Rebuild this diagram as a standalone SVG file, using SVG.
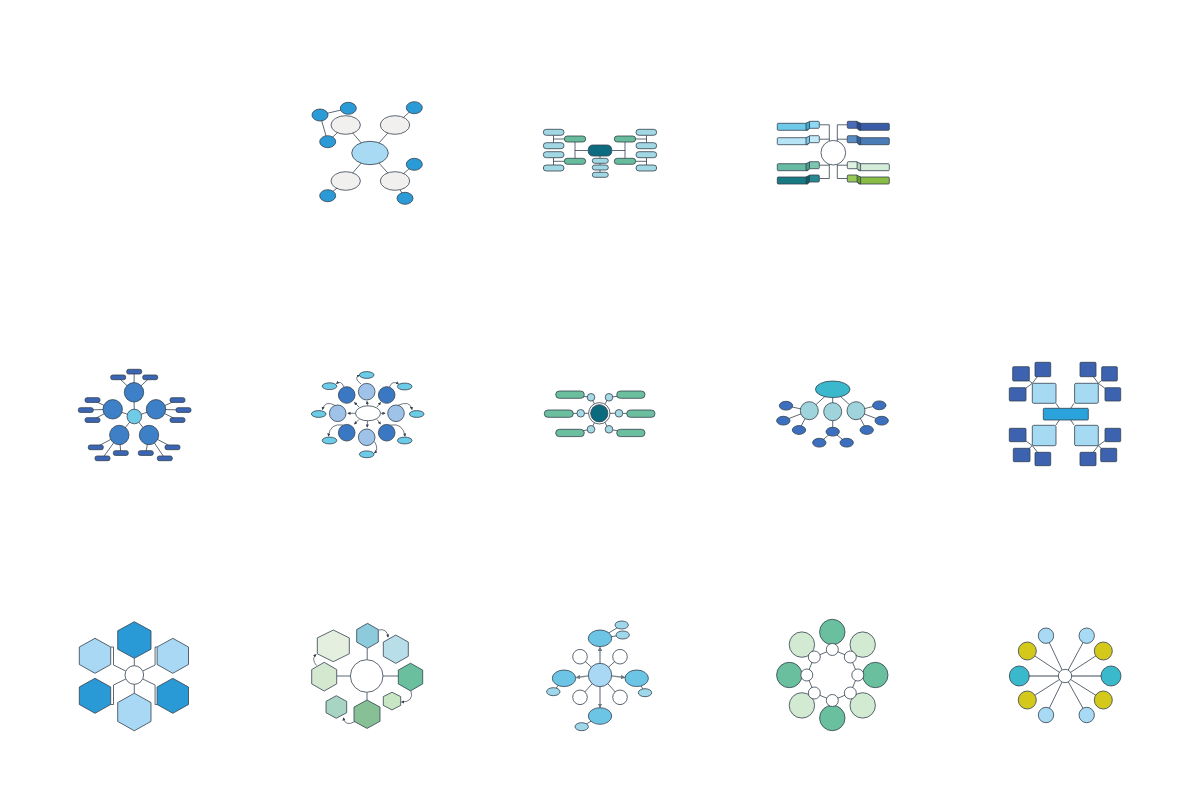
<svg xmlns="http://www.w3.org/2000/svg" width="1200" height="800" viewBox="0 0 1200 800">
<style>
.s{stroke:#34414f;stroke-width:0.8}
.ln{stroke:#34414f;stroke-width:0.8;fill:none}
.ar{stroke:#34414f;stroke-width:0.7;fill:none;marker-end:url(#ah)}
.ga{stroke:#7d8690;stroke-width:1.3;fill:none;marker-end:url(#gh)}
.gl{stroke:#7d8690;stroke-width:1.4;fill:none}
.w{fill:#ffffff}
</style>
<defs>
<marker id="ah" viewBox="0 0 10 10" refX="8" refY="5" markerWidth="3.2" markerHeight="3.2" orient="auto" markerUnits="userSpaceOnUse"><path d="M0,0 L10,5 L0,10 z" fill="#34414f"/></marker>
<marker id="gh" viewBox="0 0 10 10" refX="8" refY="5" markerWidth="4.5" markerHeight="4.5" orient="auto" markerUnits="userSpaceOnUse"><path d="M0,0 L10,5 L0,10 z" fill="#6d7680"/></marker>
</defs>
<rect width="1200" height="800" fill="#ffffff"/>

<!-- Diagram 1 -->
<g id="d1">
<g id="d1-connectors" class="ln">
<path d="M370,153 L345.7,125 M370,153 L395,125 M370,153 L345.7,181 M370,153 L395,181 M345.7,125 L327.7,141.7 L320,115 L348.3,108.3 M395,125 L414.3,107.7 M395,181 L414.3,164.3 M395,181 L405,198.3 M345.7,181 L327.7,195.7"/>
</g>
<g id="d1-nodes" class="s">
<ellipse id="d1-center" cx="370" cy="153" rx="18.3" ry="11.7" fill="#a8daf4"/>
<ellipse id="d1-g1" cx="345.7" cy="125" rx="14.7" ry="9.3" fill="#f1f0ee"/>
<ellipse id="d1-g2" cx="395" cy="125" rx="14.7" ry="9.3" fill="#f1f0ee"/>
<ellipse id="d1-g3" cx="345.7" cy="181" rx="14.7" ry="9.3" fill="#f1f0ee"/>
<ellipse id="d1-g4" cx="395" cy="181" rx="14.7" ry="9.3" fill="#f1f0ee"/>
<ellipse id="d1-b1" cx="320" cy="115" rx="8" ry="6" fill="#2b9bd7"/>
<ellipse id="d1-b2" cx="348.3" cy="108.3" rx="8" ry="6" fill="#2b9bd7"/>
<ellipse id="d1-b3" cx="327.7" cy="141.7" rx="8" ry="6" fill="#2b9bd7"/>
<ellipse id="d1-b4" cx="414.3" cy="107.7" rx="8" ry="6" fill="#2b9bd7"/>
<ellipse id="d1-b5" cx="414.3" cy="164.3" rx="8" ry="6" fill="#2b9bd7"/>
<ellipse id="d1-b6" cx="327.7" cy="195.7" rx="8" ry="6" fill="#2b9bd7"/>
<ellipse id="d1-b7" cx="405" cy="198.3" rx="8" ry="6" fill="#2b9bd7"/>
</g>
</g>

<!-- Diagram 2 -->
<g id="d2">
<g id="d2-connectors" class="ln">
<path d="M588.3,150.5 H575 M575,142 V158.3 M611.7,150.5 H625 M625,142 V158.3 M564.3,139 H553.5 M553.5,135.3 V142.7 M564.3,161.3 H553.5 M553.5,157.3 V165 M635.7,139 H646.5 M646.5,135.3 V142.7 M635.7,161.3 H646.5 M646.5,157.3 V165 M600,156 V173"/>
</g>
<g id="d2-nodes" class="s">
<rect id="d2-center" x="588.3" y="145" width="23.4" height="11" rx="4.5" fill="#0d6b7f"/>
<rect id="d2-gl1" x="564.3" y="136" width="21.4" height="6" rx="3" fill="#67bc9c"/>
<rect id="d2-gl2" x="564.3" y="158.3" width="21.4" height="6" rx="3" fill="#67bc9c"/>
<rect id="d2-gr1" x="614.3" y="136" width="21.4" height="6" rx="3" fill="#67bc9c"/>
<rect id="d2-gr2" x="614.3" y="158.3" width="21.4" height="6" rx="3" fill="#67bc9c"/>
<rect id="d2-l1" x="543.3" y="129.3" width="20.7" height="6" rx="3" fill="#a2d8e3"/>
<rect id="d2-l2" x="543.3" y="142.7" width="20.7" height="6" rx="3" fill="#a2d8e3"/>
<rect id="d2-l3" x="543.3" y="151.7" width="20.7" height="6" rx="3" fill="#a2d8e3"/>
<rect id="d2-l4" x="543.3" y="165" width="20.7" height="6" rx="3" fill="#a2d8e3"/>
<rect id="d2-r1" x="636" y="129.3" width="20.7" height="6" rx="3" fill="#a2d8e3"/>
<rect id="d2-r2" x="636" y="142.7" width="20.7" height="6" rx="3" fill="#a2d8e3"/>
<rect id="d2-r3" x="636" y="151.7" width="20.7" height="6" rx="3" fill="#a2d8e3"/>
<rect id="d2-r4" x="636" y="165" width="20.7" height="6" rx="3" fill="#a2d8e3"/>
<rect id="d2-b1" x="592.3" y="158.3" width="16" height="5" rx="2.5" fill="#a2d8e3"/>
<rect id="d2-b2" x="592.3" y="165" width="16" height="5" rx="2.5" fill="#a2d8e3"/>
<rect id="d2-b3" x="592.3" y="172.3" width="16" height="5" rx="2.5" fill="#a2d8e3"/>
</g>
</g>

<!-- Diagram 3 -->
<g id="d3">
<g id="d3-connectors" class="ln">
<path d="M819.3,124.8 H829.3 V141.1 M819.3,139.2 H829.3 M819.3,165.2 H829.3 V164 M829.3,164.3 V178.5 H819.3 M847.3,124.8 H837.3 V141.1 M847.3,139.2 H837.3 M837.3,164.3 V178.5 H847.3 M847.3,165.2 H837.3"/>
</g>
<g id="d3-nodes" class="s">
<circle id="d3-center" cx="833.3" cy="152.7" r="12.3" fill="#ffffff"/>
<g id="d3-l1"><rect x="777.3" y="123.3" width="31" height="7" rx="1" fill="#6fcaea"/><polygon points="806,123.3 810,121.3 810,128.3 806,130.3" fill="#3fa8d0"/><rect x="809.5" y="121.3" width="9.8" height="7" rx="1" fill="#8fd8f2"/></g>
<g id="d3-l2"><rect x="777.3" y="137.7" width="31" height="7" rx="1" fill="#b6e3f5"/><polygon points="806,137.7 810,135.7 810,142.7 806,144.7" fill="#7cc6e6"/><rect x="809.5" y="135.7" width="9.8" height="7" rx="1" fill="#c4e9f7"/></g>
<g id="d3-l3"><rect x="777.3" y="163.7" width="31" height="7" rx="1" fill="#66bba2"/><polygon points="806,163.7 810,161.7 810,168.7 806,170.7" fill="#4a9c88"/><rect x="809.5" y="161.7" width="9.8" height="7" rx="1" fill="#7cc6b0"/></g>
<g id="d3-l4"><rect x="777.3" y="177" width="31" height="7" rx="1" fill="#187a82"/><polygon points="806,177 810,175 810,182 806,184" fill="#0c5e66"/><rect x="809.5" y="175" width="9.8" height="7" rx="1" fill="#268890"/></g>
<g id="d3-r1"><rect x="858.3" y="123.3" width="31" height="7" rx="1" fill="#3a5ca8"/><polygon points="860.6,123.3 856.6,121.3 856.6,128.3 860.6,130.3" fill="#2a4690"/><rect x="847.3" y="121.3" width="9.8" height="7" rx="1" fill="#4a6cb6"/></g>
<g id="d3-r2"><rect x="858.3" y="137.7" width="31" height="7" rx="1" fill="#4a7cb8"/><polygon points="860.6,137.7 856.6,135.7 856.6,142.7 860.6,144.7" fill="#3462a0"/><rect x="847.3" y="135.7" width="9.8" height="7" rx="1" fill="#5a8cc4"/></g>
<g id="d3-r3"><rect x="858.3" y="163.7" width="31" height="7" rx="1" fill="#d4ecd8"/><polygon points="860.6,163.7 856.6,161.7 856.6,168.7 860.6,170.7" fill="#b0d4b8"/><rect x="847.3" y="161.7" width="9.8" height="7" rx="1" fill="#e0f2e2"/></g>
<g id="d3-r4"><rect x="858.3" y="177" width="31" height="7" rx="1" fill="#88bc44"/><polygon points="860.6,177 856.6,175 856.6,182 860.6,184" fill="#6a9c30"/><rect x="847.3" y="175" width="9.8" height="7" rx="1" fill="#98c858"/></g>
</g>
</g>

<!-- Diagram 4 -->
<g id="d4">
<g id="d4-connectors" class="ln">
<path d="M134.3,416.5 L134,392.3 M134.3,416.5 L112.7,409.3 M134.3,416.5 L156,409.3 M134.3,416.5 L119.3,435 M134.3,416.5 L149,435
M134,392.3 L134.2,371.6 M134,392.3 L118.2,377.3 M134,392.3 L150.2,377.3
M112.7,409.3 L92.5,400 M112.7,409.3 L85.8,410 M112.7,409.3 L92.5,420
M156,409.3 L177.5,400 M156,409.3 L183.5,410 M156,409.3 L177.5,420
M119.3,435 L95.8,447.3 M119.3,435 L102.5,458.3 M119.3,435 L120.8,453
M149,435 L145.8,453 M149,435 L164.8,458.3 M149,435 L172.5,447.3"/>
</g>
<g id="d4-nodes" class="s">
<circle id="d4-c1" cx="134" cy="392.3" r="9.7" fill="#3e80c8"/>
<circle id="d4-c2" cx="112.7" cy="409.3" r="9.7" fill="#3e80c8"/>
<circle id="d4-c3" cx="156" cy="409.3" r="9.7" fill="#3e80c8"/>
<circle id="d4-c4" cx="119.3" cy="435" r="9.7" fill="#3e80c8"/>
<circle id="d4-c5" cx="149" cy="435" r="9.7" fill="#3e80c8"/>
<circle id="d4-center" cx="134.3" cy="416.5" r="7.3" fill="#6fcbe6"/>
<g fill="#3b66b5">
<rect id="d4-r1" x="126.7" y="369.3" width="15" height="4.7" rx="2"/>
<rect id="d4-r2" x="110.7" y="375" width="15" height="4.7" rx="2"/>
<rect id="d4-r3" x="142.7" y="375" width="15" height="4.7" rx="2"/>
<rect id="d4-r4" x="85" y="397.7" width="15" height="4.7" rx="2"/>
<rect id="d4-r5" x="78.3" y="407.7" width="15" height="4.7" rx="2"/>
<rect id="d4-r6" x="85" y="417.7" width="15" height="4.7" rx="2"/>
<rect id="d4-r7" x="170" y="397.7" width="15" height="4.7" rx="2"/>
<rect id="d4-r8" x="176" y="407.7" width="15" height="4.7" rx="2"/>
<rect id="d4-r9" x="170" y="417.7" width="15" height="4.7" rx="2"/>
<rect id="d4-r10" x="88.3" y="445" width="15" height="4.7" rx="2"/>
<rect id="d4-r11" x="95" y="456" width="15" height="4.7" rx="2"/>
<rect id="d4-r12" x="113.3" y="450.7" width="15" height="4.7" rx="2"/>
<rect id="d4-r13" x="138.3" y="450.7" width="15" height="4.7" rx="2"/>
<rect id="d4-r14" x="157.3" y="456" width="15" height="4.7" rx="2"/>
<rect id="d4-r15" x="165" y="445" width="15" height="4.7" rx="2"/>
</g>
</g>
</g>

<!-- Diagram 5 -->
<g id="d5">
<g id="d5-connectors">
<path class="ar" d="M367.5,405.5 L367,401.5"/>
<path class="ar" d="M359,407 L354.5,402.5"/>
<path class="ar" d="M377,407 L380.5,402.5"/>
<path class="ar" d="M355.5,413.3 L348,413.3"/>
<path class="ar" d="M380.5,413.3 L385,413.3"/>
<path class="ar" d="M359,419.5 L354.5,424"/>
<path class="ar" d="M377,419.5 L380.5,424"/>
<path class="ar" d="M367.5,421 L367.2,427"/>
<path class="ar" d="M361,384 Q353,378 359.5,375"/>
<path class="ar" d="M344,387 Q341,380 336.5,383.5"/>
<path class="ar" d="M389.5,387 Q392,380 398.5,384"/>
<path class="ar" d="M335,405.3 Q325,400 322.5,409.5"/>
<path class="ar" d="M398,405.3 Q410,400 412,409.5"/>
<path class="ar" d="M343,425 Q330,423 328.5,436"/>
<path class="ar" d="M390.5,425 Q403,423 405,436"/>
<path class="ar" d="M374.5,441.5 Q379,449 374.5,453"/>
</g>
<g id="d5-nodes" class="s">
<ellipse id="d5-center" cx="368" cy="413.3" rx="12.5" ry="7.5" fill="#ffffff"/>
<circle id="d5-c1" cx="366.7" cy="391.7" r="8.3" fill="#9fc2e8"/>
<circle id="d5-c2" cx="346.7" cy="395" r="8.3" fill="#3a78c4"/>
<circle id="d5-c3" cx="386.7" cy="395" r="8.3" fill="#3a78c4"/>
<circle id="d5-c4" cx="337.7" cy="413.3" r="8.3" fill="#9fc2e8"/>
<circle id="d5-c5" cx="396" cy="413.3" r="8.3" fill="#9fc2e8"/>
<circle id="d5-c6" cx="346.7" cy="432.7" r="8.3" fill="#3a78c4"/>
<circle id="d5-c7" cx="366.7" cy="437.3" r="8.3" fill="#9fc2e8"/>
<circle id="d5-c8" cx="386.7" cy="432.7" r="8.3" fill="#3a78c4"/>
<g fill="#6ccce8">
<ellipse id="d5-e1" cx="366.7" cy="375" rx="7.3" ry="3.4"/>
<ellipse id="d5-e2" cx="329.5" cy="386.2" rx="7.3" ry="3.4"/>
<ellipse id="d5-e3" cx="404.7" cy="386.5" rx="7.3" ry="3.4"/>
<ellipse id="d5-e4" cx="318.7" cy="414" rx="7.3" ry="3.4"/>
<ellipse id="d5-e5" cx="416.7" cy="414" rx="7.3" ry="3.4"/>
<ellipse id="d5-e6" cx="329.5" cy="440.5" rx="7.3" ry="3.4"/>
<ellipse id="d5-e7" cx="404.7" cy="440.5" rx="7.3" ry="3.4"/>
<ellipse id="d5-e8" cx="366.7" cy="454.3" rx="7.3" ry="3.4"/>
</g>
</g>
</g>

<!-- Diagram 6 -->
<g id="d6">
<g id="d6-connectors" class="ln">
<path d="M599.3,413.3 L591,397.3 L570,394.7 M599.3,413.3 L609,397.3 L630.8,394.7 M599.3,413.3 L580.7,413.3 L558.8,413.7 M599.3,413.3 L619,413.3 L640.8,413.7 M599.3,413.3 L591,429.3 L570,433 M599.3,413.3 L609,429.3 L630.8,433"/>
</g>
<g id="d6-nodes" class="s">
<g fill="#6bbf9f">
<rect id="d6-p1" x="555.7" y="391" width="28.6" height="7.3" rx="3.65"/>
<rect id="d6-p2" x="616.7" y="391" width="28.3" height="7.3" rx="3.65"/>
<rect id="d6-p3" x="544.3" y="410" width="29" height="7.3" rx="3.65"/>
<rect id="d6-p4" x="626.7" y="410" width="28.3" height="7.3" rx="3.65"/>
<rect id="d6-p5" x="555.7" y="429.3" width="28.6" height="7.3" rx="3.65"/>
<rect id="d6-p6" x="616.7" y="429.3" width="28.3" height="7.3" rx="3.65"/>
</g>
<g fill="#a6d9e3">
<circle id="d6-s1" cx="591" cy="397.3" r="3.8"/>
<circle id="d6-s2" cx="609" cy="397.3" r="3.8"/>
<circle id="d6-s3" cx="580.7" cy="413.3" r="3.8"/>
<circle id="d6-s4" cx="619" cy="413.3" r="3.8"/>
<circle id="d6-s5" cx="591" cy="429.3" r="3.8"/>
<circle id="d6-s6" cx="609" cy="429.3" r="3.8"/>
</g>
<g id="d6-center"><circle cx="599.3" cy="413.3" r="10.7" fill="#ffffff"/><circle cx="599.3" cy="413.3" r="8.6" fill="#0b6b7e"/></g>
</g>
</g>

<!-- Diagram 7 -->
<g id="d7">
<g id="d7-connectors" class="ln">
<path d="M832.7,389.3 L809.3,410.7 M832.7,389.3 L832.7,411.7 M832.7,389.3 L856,410.7
M809.3,410.7 L786,405.7 M809.3,410.7 L783.3,420.7 M809.3,410.7 L799,430
M856,410.7 L879.3,405 M856,410.7 L881.7,420.7 M856,410.7 L866.7,430
M832.7,411.7 L832.7,431.7 L819.3,442.7 M832.7,431.7 L846.7,442.7"/>
</g>
<g id="d7-nodes" class="s">
<ellipse id="d7-top" cx="832.7" cy="389.3" rx="17.3" ry="8.3" fill="#3bb8cc"/>
<circle id="d7-c1" cx="809.3" cy="410.7" r="9" fill="#a0d4dc"/>
<circle id="d7-c2" cx="832.7" cy="411.7" r="9" fill="#a0d4dc"/>
<circle id="d7-c3" cx="856" cy="410.7" r="9" fill="#a0d4dc"/>
<g fill="#3c70bf">
<ellipse id="d7-e1" cx="786" cy="405.7" rx="6.7" ry="4.4"/>
<ellipse id="d7-e2" cx="783.3" cy="420.7" rx="6.7" ry="4.4"/>
<ellipse id="d7-e3" cx="799" cy="430" rx="6.7" ry="4.4"/>
<ellipse id="d7-e4" cx="879.3" cy="405.3" rx="6.7" ry="4.4"/>
<ellipse id="d7-e5" cx="881.7" cy="420.7" rx="6.7" ry="4.4"/>
<ellipse id="d7-e6" cx="866.7" cy="430" rx="6.7" ry="4.4"/>
<ellipse id="d7-e7" cx="832.7" cy="431.7" rx="6.7" ry="4.4"/>
<ellipse id="d7-e8" cx="819.3" cy="442.7" rx="6.7" ry="4.4"/>
<ellipse id="d7-e9" cx="846.7" cy="442.7" rx="6.7" ry="4.4"/>
</g>
</g>
</g>

<!-- Diagram 8 -->
<g id="d8">
<g id="d8-connectors" class="ln">
<path d="M1056,403.3 L1059.3,408.3 M1074,403.3 L1070.7,408.3 M1056,425 L1059.3,420 M1074,425 L1070.7,420
M1032.3,383.3 L1021,373.8 M1032.3,383.3 L1042.8,369.5 M1032.3,383.3 L1017.7,394.3
M1098.3,383.3 L1088,369.5 M1098.3,383.3 L1109.5,373.8 M1098.3,383.3 L1112.8,394.3
M1032.3,445.7 L1017.7,435 M1032.3,445.7 L1021.7,455 M1032.3,445.7 L1042.8,459
M1098.3,445.7 L1088,459 M1098.3,445.7 L1108.7,455 M1098.3,445.7 L1112.8,435"/>
</g>
<g id="d8-nodes" class="s">
<rect id="d8-center" x="1043.3" y="408.3" width="45" height="11.7" rx="1" fill="#2aa3dd"/>
<g fill="#a5daf2">
<rect id="d8-l1" x="1032.3" y="383.3" width="23.7" height="20" rx="1.5"/>
<rect id="d8-l2" x="1074.6" y="383.3" width="23.7" height="20" rx="1.5"/>
<rect id="d8-l3" x="1032.3" y="425.3" width="23.7" height="20.4" rx="1.5"/>
<rect id="d8-l4" x="1074.6" y="425.3" width="23.7" height="20.4" rx="1.5"/>
</g>
<g fill="#3d62b0">
<rect id="d8-d1" x="1012.7" y="366.7" width="16.6" height="14.3" rx="1"/>
<rect id="d8-d2" x="1035" y="362.3" width="15.7" height="14.4" rx="1"/>
<rect id="d8-d3" x="1009.3" y="387.7" width="16.7" height="13.3" rx="1"/>
<rect id="d8-d4" x="1080" y="362.3" width="16" height="14.4" rx="1"/>
<rect id="d8-d5" x="1101.7" y="366.7" width="15.6" height="14.3" rx="1"/>
<rect id="d8-d6" x="1105" y="387.7" width="15.7" height="13.3" rx="1"/>
<rect id="d8-d7" x="1009.3" y="428.3" width="16.7" height="13.4" rx="1"/>
<rect id="d8-d8" x="1013.3" y="448.3" width="16.7" height="13.4" rx="1"/>
<rect id="d8-d9" x="1035" y="452.3" width="15.7" height="13.4" rx="1"/>
<rect id="d8-d10" x="1080" y="452.3" width="16" height="13.4" rx="1"/>
<rect id="d8-d11" x="1100.7" y="448.3" width="16" height="13.4" rx="1"/>
<rect id="d8-d12" x="1105" y="428.3" width="15.7" height="13.4" rx="1"/>
</g>
</g>
</g>

<!-- Diagram 9 -->
<g id="d9">
<g id="d9-connectors" class="ln">
<path d="M134.3,665.7 V658.3 M134.3,684.3 V693.2 M125.8,671 L113.5,665 V647 H110.7 M142.8,671 L155.1,665 V647 H157.1 M125.8,679 L113.5,685 V704.5 H110.7 M142.8,679 L155.1,685 V704.5 H157.1"/>
</g>
<g id="d9-nodes" class="s">
<polygon id="d9-h1" points="134.3,621.7 151,630.8 151,649.2 134.3,658.3 117.7,649.2 117.7,630.8" fill="#2a9ad6"/>
<polygon id="d9-h2" points="95,638.3 110.7,647 110.7,664.5 95,673.3 79.3,664.5 79.3,647" fill="#a8d8f4"/>
<polygon id="d9-h3" points="172.8,638.3 188.5,647 188.5,664.5 172.8,673.3 157.1,664.5 157.1,647" fill="#a8d8f4"/>
<polygon id="d9-h4" points="95,678.3 110.7,687 110.7,704.5 95,713.3 79.3,704.5 79.3,687" fill="#2a9ad6"/>
<polygon id="d9-h5" points="172.8,678.3 188.5,687 188.5,704.5 172.8,713.3 157.1,704.5 157.1,687" fill="#2a9ad6"/>
<polygon id="d9-h6" points="134.3,693.2 151,702.6 151,721.4 134.3,730.8 117.7,721.4 117.7,702.6" fill="#a8d8f4"/>
<circle id="d9-center" cx="134.3" cy="675" r="9.3" fill="#ffffff"/>
</g>
</g>

<!-- Diagram 10 -->
<g id="d10">
<g id="d10-connectors">
<path class="ln" d="M367.2,659.7 V648.3 M383,676 H398.3 M367,692.3 V700 M350.4,676 H336.7"/>
<path class="ar" d="M378.5,630 Q387,628 388,637"/>
<path class="ar" d="M411,691 Q414,702 401.5,702"/>
<path class="ar" d="M355,721.5 Q345,727 343.5,718"/>
<path class="ar" d="M316.5,665.5 Q311,659 316,654.5"/>
</g>
<g id="d10-nodes" class="s">
<polygon id="d10-h1" points="367.5,623.3 378.3,629.6 378.3,642.1 367.5,648.3 356.7,642.1 356.7,629.6" fill="#8ccadc"/>
<polygon id="d10-h2" points="395.8,635 408.3,642.1 408.3,656.3 395.8,663.4 383.3,656.3 383.3,642.1" fill="#b8dfe9"/>
<polygon id="d10-h3" points="410.5,663.2 422.7,670.1 422.7,683.9 410.5,690.9 398.3,683.9 398.3,670.1" fill="#6abf9f"/>
<polygon id="d10-h4" points="392,692.2 400.7,696.6 400.7,705.4 392,709.9 383.3,705.4 383.3,696.6" fill="#c8e6c4"/>
<polygon id="d10-h5" points="367,700 380,707.1 380,721.3 367,728.4 354,721.3 354,707.1" fill="#88c095"/>
<polygon id="d10-h6" points="336.3,695.7 346.7,701.4 346.7,712.7 336.3,718.3 326,712.7 326,701.4" fill="#a8d4c4"/>
<polygon id="d10-h7" points="324.2,662.3 336.7,669.5 336.7,683.9 324.2,691 311.7,683.9 311.7,669.5" fill="#d4e8d0"/>
<polygon id="d10-h8" points="333.3,630 349.3,637.9 349.3,653.8 333.3,661.7 317.3,653.8 317.3,637.9" fill="#e4efe0"/>
<circle id="d10-center" cx="366.7" cy="676" r="16.3" fill="#ffffff"/>
</g>
</g>

<!-- Diagram 11 -->
<g id="d11">
<g id="d11-connectors">
<path class="ln" d="M600,675 L580,656.7 M600,675 L620,656.7 M600,675 L580,697.3 M600,675 L620,697.3 M600,638.3 L621.7,625 M600,638.3 L622.7,635 M564,678.3 L553.3,691.7 M636.7,678.3 L645,692.7 M600,716 L581.7,726.7"/>
<path class="ga" d="M600,663.5 V647.5"/>
<path class="ga" d="M588.5,675.8 L576.5,677.5"/>
<path class="ga" d="M611.5,675.8 L624.5,677.5"/>
<path class="ga" d="M600,686.5 V707.2"/>
</g>
<g id="d11-nodes" class="s">
<circle id="d11-center" cx="600" cy="675" r="11.7" fill="#a8d8f4"/>
<g fill="#ffffff">
<circle id="d11-w1" cx="580" cy="656.7" r="7.3"/>
<circle id="d11-w2" cx="620" cy="656.7" r="7.3"/>
<circle id="d11-w3" cx="580" cy="697.3" r="7.3"/>
<circle id="d11-w4" cx="620" cy="697.3" r="7.3"/>
</g>
<g fill="#6cc5e5">
<ellipse id="d11-e1" cx="600" cy="638.3" rx="11.7" ry="8.3"/>
<ellipse id="d11-e2" cx="564" cy="678.3" rx="11.7" ry="8.3"/>
<ellipse id="d11-e3" cx="636.7" cy="678.3" rx="11.7" ry="8.3"/>
<ellipse id="d11-e4" cx="600" cy="716" rx="11.7" ry="8.3"/>
</g>
<g fill="#9ed8ea">
<ellipse id="d11-s1" cx="621.7" cy="625" rx="6.7" ry="4"/>
<ellipse id="d11-s2" cx="622.7" cy="635" rx="6.7" ry="4"/>
<ellipse id="d11-s3" cx="553.3" cy="691.7" rx="6.7" ry="4"/>
<ellipse id="d11-s4" cx="645" cy="692.7" rx="6.7" ry="4"/>
<ellipse id="d11-s5" cx="581.7" cy="726.7" rx="6.7" ry="4"/>
</g>
</g>
</g>

<!-- Diagram 12 -->
<g id="d12">
<g id="d12-connectors" class="ln">
<path d="M832.3,649.5 L850.3,657 L857.8,675 L850.3,693 L832.3,700.5 L814.3,693 L806.8,675 L814.3,657 Z
M832.3,649.5 V632 M850.3,657 L862.7,644.6 M857.8,675 H875.3 M850.3,693 L862.7,705.4 M832.3,700.5 V718 M814.3,693 L801.9,705.4 M806.8,675 H789.3 M814.3,657 L801.9,644.6"/>
</g>
<g id="d12-nodes" class="s">
<circle id="d12-b1" cx="832.3" cy="632" r="12.7" fill="#6abf9f"/>
<circle id="d12-b2" cx="862.7" cy="644.6" r="12.7" fill="#d2e9d2"/>
<circle id="d12-b3" cx="875.3" cy="675" r="12.7" fill="#6abf9f"/>
<circle id="d12-b4" cx="862.7" cy="705.4" r="12.7" fill="#d2e9d2"/>
<circle id="d12-b5" cx="832.3" cy="718" r="12.7" fill="#6abf9f"/>
<circle id="d12-b6" cx="801.9" cy="705.4" r="12.7" fill="#d2e9d2"/>
<circle id="d12-b7" cx="789.3" cy="675" r="12.7" fill="#6abf9f"/>
<circle id="d12-b8" cx="801.9" cy="644.6" r="12.7" fill="#d2e9d2"/>
<g fill="#ffffff">
<circle id="d12-s1" cx="832.3" cy="649.5" r="6"/>
<circle id="d12-s2" cx="850.3" cy="657" r="6"/>
<circle id="d12-s3" cx="857.8" cy="675" r="6"/>
<circle id="d12-s4" cx="850.3" cy="693" r="6"/>
<circle id="d12-s5" cx="832.3" cy="700.5" r="6"/>
<circle id="d12-s6" cx="814.3" cy="693" r="6"/>
<circle id="d12-s7" cx="806.8" cy="675" r="6"/>
<circle id="d12-s8" cx="814.3" cy="657" r="6"/>
</g>
</g>
</g>

<!-- Diagram 13 -->
<g id="d13">
<g id="d13-connectors">
<path class="gl" d="M1065,676 H1019.3 M1065,676 H1111"/>
<path class="ln" d="M1065,676 L1027.3,651 M1065,676 L1103.3,651 M1065,676 L1027.3,700 M1065,676 L1103.3,700 M1065,676 L1046,635.7 M1065,676 L1086.7,635.7 M1065,676 L1046,715 M1065,676 L1086.7,715"/>
</g>
<g id="d13-nodes" class="s">
<circle id="d13-c1" cx="1019.3" cy="676" r="10" fill="#3ab8cc"/>
<circle id="d13-c2" cx="1111" cy="676" r="10" fill="#3ab8cc"/>
<circle id="d13-y1" cx="1027.3" cy="651" r="9" fill="#d4c81a"/>
<circle id="d13-y2" cx="1103.3" cy="651" r="9" fill="#d4c81a"/>
<circle id="d13-y3" cx="1027.3" cy="700" r="9" fill="#d4c81a"/>
<circle id="d13-y4" cx="1103.3" cy="700" r="9" fill="#d4c81a"/>
<circle id="d13-l1" cx="1046" cy="635.7" r="7.7" fill="#a8daf4"/>
<circle id="d13-l2" cx="1086.7" cy="635.7" r="7.7" fill="#a8daf4"/>
<circle id="d13-l3" cx="1046" cy="715" r="7.7" fill="#a8daf4"/>
<circle id="d13-l4" cx="1086.7" cy="715" r="7.7" fill="#a8daf4"/>
<circle id="d13-center" cx="1065" cy="676" r="6.7" fill="#ffffff"/>
</g>
</g>
</svg>
